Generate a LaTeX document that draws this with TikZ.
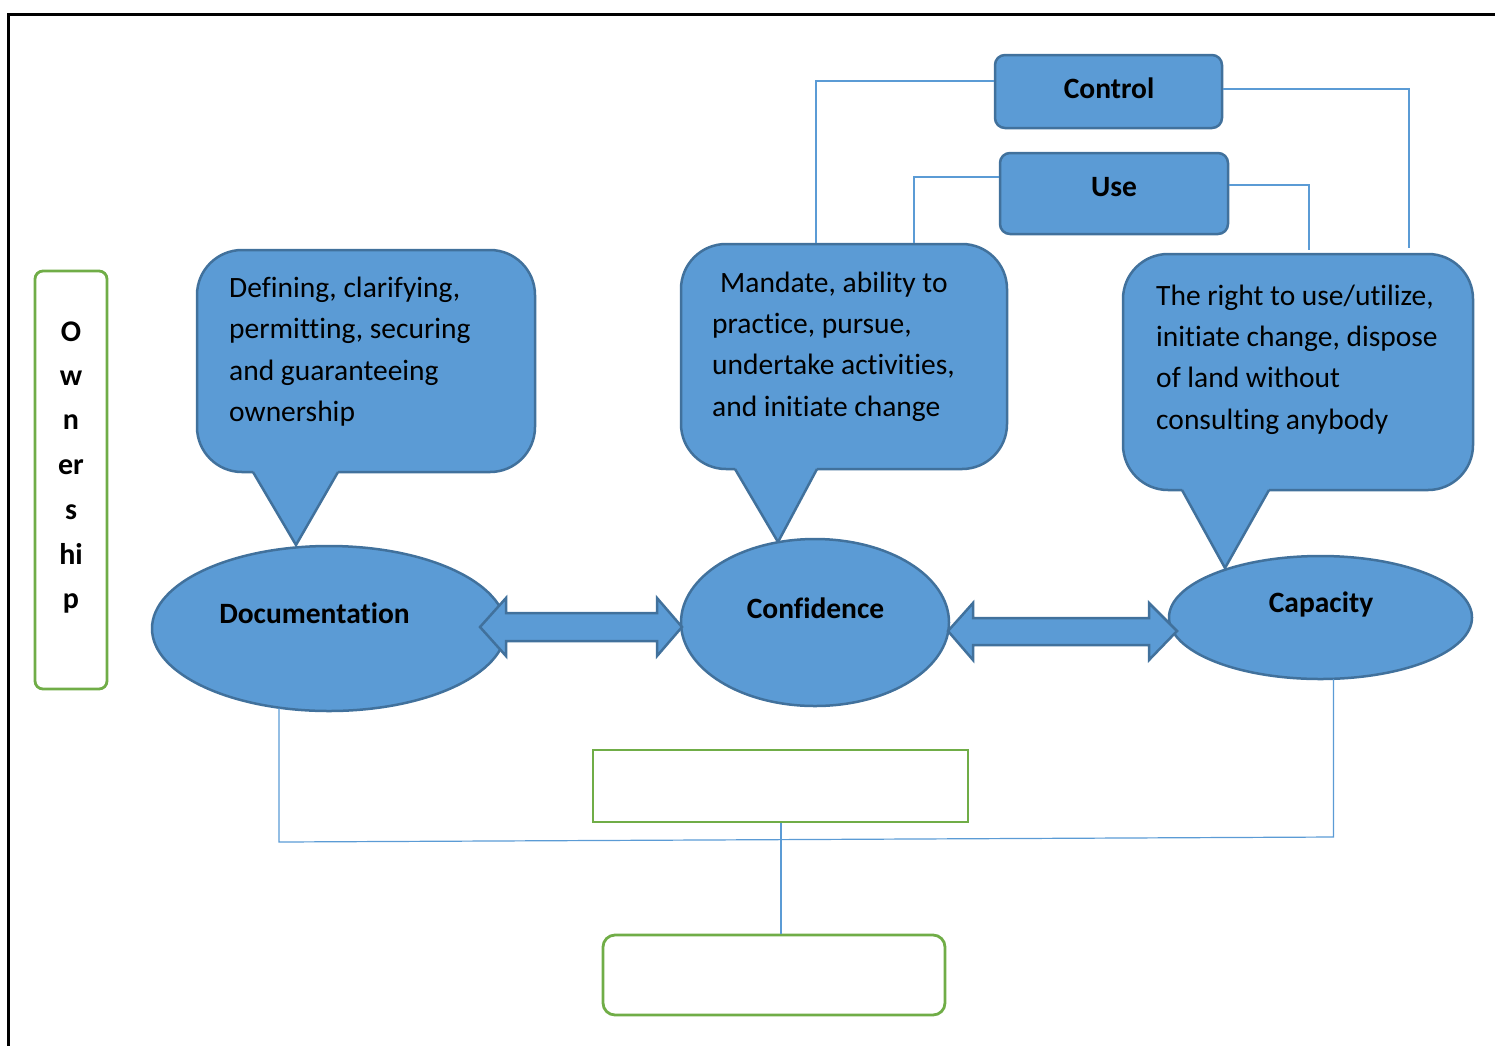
\documentclass[tikz,border=0pt]{standalone}
\usepackage{fontspec}
\setmainfont{Carlito}[Ligatures=NoCommon]
\usetikzlibrary{shapes.geometric}
\definecolor{bfill}{HTML}{5B9BD5}
\definecolor{bline}{HTML}{41719C}
\definecolor{gline}{HTML}{70AD47}
\definecolor{cline}{HTML}{5B9BD5}
\tikzset{
  bshape/.style={fill=bfill, draw=bline, line width=2.5pt},
  bbox/.style={bshape, rectangle, rounded corners=10pt, inner sep=0pt},
  bell/.style={bshape, ellipse, inner sep=0pt},
  gbox/.style={draw=gline, line width=2.8pt, rectangle, inner sep=0pt},
  conn/.style={draw=cline, line width=1.2pt},
  txt/.style={font=\fontsize{29.5}{34}\selectfont, inner sep=0pt, anchor=base west},
  btxt/.style={font=\fontsize{29.5}{34}\selectfont\bfseries, inner sep=0pt, anchor=base},
  otxt/.style={font=\fontsize{30}{34}\selectfont\bfseries, inner sep=0pt, anchor=base},
}
\begin{document}
\begin{tikzpicture}[x=1pt, y=-1pt]
\useasboundingbox (0,0) rectangle (1495,1045);
% outer frame
\draw[line width=3pt] (8.5,1046) -- (8.5,14) -- (1496,14);

% Ownership
\node[gbox, rounded corners=8pt, minimum width=72pt, minimum height=418pt] (own) at (71,480) {};
\foreach \t/\y [count=\i] in {O/341, w/385, n/429, er/474, s/519, hi/564, p/608}
  \node[otxt] (o\i) at (71,\y) {\t};

% callouts
\foreach \xl/\xr/\yt/\yb/\pa/\pb/\tx/\ty [count=\k] in
  {197/535/250/472/253/338/296/545,
   681/1007/244/469/735/817/778/542,
   1123/1473/254/490/1182/1269/1225/568}{
  \fill[bfill, rounded corners=45pt] (\xl,\yt) rectangle (\xr,\yb);
  \fill[bfill] (\pa,\yb-2) -- (\tx,\ty) -- (\pb,\yb-2) -- cycle;
  \draw[bline, line width=2.5pt, line join=round] (\pb,\yb)
     [rounded corners=45pt] -- (\xr,\yb) -- (\xr,\yt) -- (\xl,\yt) -- (\xl,\yb) -- (\pa,\yb);
  \draw[bline, line width=2.5pt, line join=miter] (\pa,\yb) -- (\tx,\ty) -- (\pb,\yb);
}
\node[txt] (a1) at (229,297) {Defining, clarifying,};
\node[txt] (a2) at (229,338) {permitting, securing};
\node[txt] (a3) at (229,380) {and guaranteeing};
\node[txt] (a4) at (229,421) {ownership};
\node[txt] (b1) at (720,292) {Mandate, ability to};
\node[txt] (b2) at (712,333) {practice, pursue,};
\node[txt] (b3) at (712,374) {undertake activities,};
\node[txt] (b4) at (712,416) {and initiate change};
\node[txt] (c1) at (1156,305) {The right to use/utilize,};
\node[txt] (c2) at (1156,346) {initiate change, dispose};
\node[txt] (c3) at (1156,387) {of land without};
\node[txt] (c4) at (1156,429) {consulting anybody};

% ellipses
\node[bell, minimum width=354pt, minimum height=165pt] (doc) at (329,628.5) {};
\node[bell, minimum width=268pt, minimum height=167pt] (conf) at (815,622.5) {};
\node[bell, minimum width=303pt, minimum height=123pt] (cap) at (1320.5,617.5) {};
\node[btxt] (doct) at (314.5,623) {Documentation};
\node[btxt] (conft) at (815.5,618) {Confidence};
\node[btxt] (capt) at (1321,612) {Capacity};

% double arrows
\draw[bshape, line join=miter] (480,627) -- (506,598) -- (506,613) -- (657,613) -- (657,598)
  -- (682,627) -- (657,656) -- (657,641) -- (506,641) -- (506,656) -- cycle;
\draw[bshape, line join=miter] (948,631) -- (973,603) -- (973,618) -- (1149,618) -- (1149,603)
  -- (1177,631) -- (1149,660) -- (1149,645) -- (973,645) -- (973,660) -- cycle;

% top boxes
\node[bbox, minimum width=227pt, minimum height=73pt] (ctrl) at (1108.5,91.5) {};
\node[bbox, minimum width=228pt, minimum height=81pt] (use) at (1114,193.5) {};
\node[btxt] (ctrlt) at (1109,98) {Control};
\node[btxt] (uset) at (1114,196) {Use};

% connector endpoints
\coordinate (k2a) at (816,243);
\coordinate (k2b) at (914,243);
\coordinate (k3a) at (1309,250);
\coordinate (k3b) at (1409,248);
\coordinate (docb) at (279,708);
\coordinate (capb) at (1333.5,679);
\coordinate (bl) at (279,842);
\coordinate (br) at (1333.5,837);

\draw[conn] (ctrl.west |- 0,81) -| (k2a);
\draw[conn] (ctrl.east |- 0,89) -| (k3b);
\draw[conn] (use.west |- 0,177) -| (k2b);
\draw[conn] (use.east |- 0,185) -| (k3a);
\draw[conn] (docb) -- (bl) -- (br) -- (capb);

% bottom boxes
\node[gbox, minimum width=375pt, minimum height=72pt] (g1) at (780.5,786) {};
\node[gbox, rounded corners=12pt, minimum width=342pt, minimum height=80pt] (g2) at (774,975) {};
\draw[conn] (g1.south -| 781,0) -- (g2.north -| 781,0);
\end{tikzpicture}
\end{document}
